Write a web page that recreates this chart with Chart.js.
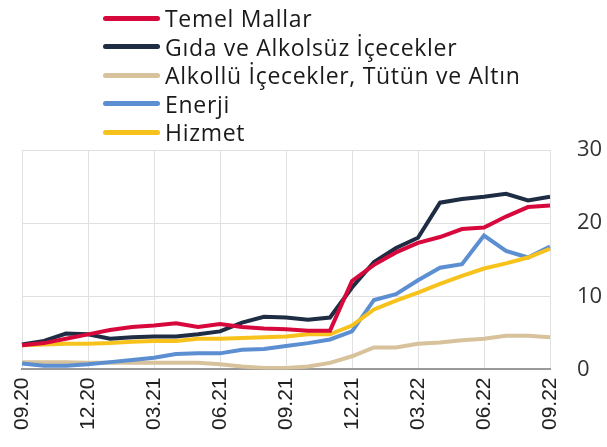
<!DOCTYPE html>
<html>
<head>
<meta charset="utf-8">
<script src="https://cdn.jsdelivr.net/npm/chart.js@4"></script>
<style>
    body { margin: 0; background: #fff; }
    #wrap { position: relative; width: 607px; height: 447px; }
    #legend { position: absolute; left: 103px; top: 4px; font-family: "Open Sans", sans-serif; font-size: 23px; font-weight: 500; letter-spacing: 0.7px; color: #1a1a1a; }
    #legend .item { height: 28.5px; display: flex; align-items: center; white-space: nowrap; }
    #legend .swatch { width: 57px; height: 5px; border-radius: 3px; margin-right: 5px; }
</style>
</head>
<body>
<div id="wrap">
    <canvas id="chart"></canvas>
    <div id="legend"></div>
</div>
<script>
const months = ['09.20', '10.20', '11.20', '12.20', '01.21', '02.21', '03.21', '04.21', '05.21', '06.21', '07.21', '08.21',
    '09.21', '10.21', '11.21', '12.21', '01.22', '02.22', '03.22', '04.22', '05.22', '06.22', '07.22', '08.22', '09.22'];
const seriesNames = ['Temel Mallar', 'Gıda ve Alkolsüz İçecekler', 'Alkollü İçecekler, Tütün ve Altın', 'Enerji', 'Hizmet'];

const temelMallar = [3.3, 3.6, 4.2, 4.8, 5.4, 5.8, 6.0, 6.3, 5.8, 6.2, 5.8, 5.6, 5.5, 5.3, 5.3, 12.1, 14.3, 16.0, 17.3, 18.1, 19.2, 19.4, 20.9, 22.2, 22.4];
const gida = [3.4, 3.9, 4.9, 4.8, 4.2, 4.4, 4.5, 4.5, 4.8, 5.2, 6.4, 7.2, 7.1, 6.8, 7.1, 11.2, 14.7, 16.6, 18.0, 22.8, 23.3, 23.6, 24.0, 23.1, 23.6];
const alkollu = [1.0, 1.0, 1.0, 0.9, 0.9, 0.9, 0.9, 0.9, 0.9, 0.7, 0.4, 0.2, 0.2, 0.4, 0.9, 1.8, 3.0, 3.0, 3.5, 3.7, 4.0, 4.2, 4.6, 4.6, 4.4];
const enerji = [0.8, 0.5, 0.5, 0.7, 1.0, 1.3, 1.6, 2.1, 2.2, 2.2, 2.7, 2.8, 3.2, 3.6, 4.1, 5.2, 9.5, 10.3, 12.2, 13.9, 14.4, 18.3, 16.2, 15.3, 16.8];
const hizmet = [3.3, 3.4, 3.5, 3.5, 3.6, 3.8, 3.9, 3.9, 4.2, 4.2, 4.3, 4.4, 4.5, 4.8, 4.8, 6.0, 8.2, 9.4, 10.5, 11.7, 12.8, 13.8, 14.5, 15.3, 16.5];

const colors = ['#d7083c', '#1e2d43', '#d8c29c', '#5c8fd1', '#f7c21c'];
// drawn bottom-up so red/navy sit on top like the original
const values = [temelMallar, gida, alkollu, enerji, hizmet];
const drawOrder = [0, 1, 4, 3, 2];

const datasets = values.map(function(v, i) {
    return {
        label: seriesNames[i],
        data: v,
        borderColor: colors[i],
        backgroundColor: colors[i],
        borderWidth: 4,
        pointRadius: 0,
        tension: 0,
        order: drawOrder[i]
    };
});

document.getElementById('legend').innerHTML = seriesNames.map(function(name, i) {
    return '<div class="item"><span class="swatch" style="background:' + colors[i] + '"></span>' + name + '</div>';
}).join('');

new Chart(document.getElementById('chart').getContext('2d'), {
    type: 'line',
    data: { labels: months, datasets: datasets },
    options: {
        responsive: true,
        maintainAspectRatio: false,
        animation: false,
        layout: { padding: { top: 150, left: 22, right: 0, bottom: 9 } },
        plugins: {
            legend: { display: false },
            tooltip: { enabled: false }
        },
        scales: {
            x: {
                offset: false,
                grid: {
                    color: function(ctx) { return ctx.index % 3 === 0 ? '#e0e0e0' : 'transparent'; },
                    drawTicks: false
                },
                border: { color: '#999', width: 2 },
                ticks: {
                    autoSkip: false,
                    maxRotation: 90,
                    minRotation: 90,
                    padding: 8,
                    color: '#222',
                    font: { family: 'Liberation Sans', size: 21 },
                    callback: function(val, idx) { return idx % 3 === 0 ? months[idx] : ''; }
                }
            },
            y: {
                position: 'right',
                min: 0,
                max: 30,
                afterFit: function(scale) { scale.width = 57; },
                grid: { color: '#e0e0e0', drawTicks: false },
                border: { display: false },
                ticks: {
                    stepSize: 10,
                    padding: 27,
                    color: '#333',
                    font: { family: 'Open Sans', size: 22 }
                }
            }
        }
    }
});
</script>
</body>
</html>
